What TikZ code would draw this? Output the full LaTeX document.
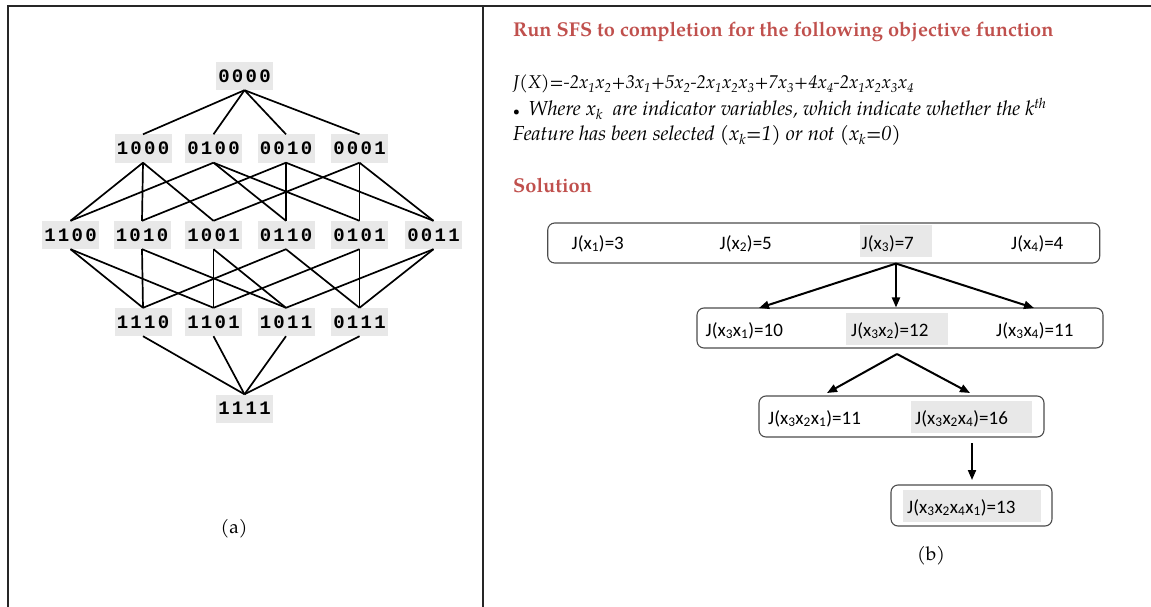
\documentclass[tikz,border=0pt]{standalone}
\usepackage{fontspec}
\setmainfont{texgyrepagella}[Extension=.otf, UprightFont=*-regular, BoldFont=*-bold, ItalicFont=*-italic, BoldItalicFont=*-bolditalic]
\newfontfamily\bitfont{Liberation Mono}[LetterSpace=12]
\newfontfamily\boxfont{Carlito}
\usetikzlibrary{arrows.meta}
\definecolor{titlered}{RGB}{192,80,77}
\definecolor{hilite}{RGB}{232,232,232}
\newcommand\sbs[1]{\textsubscript{#1}}

\begin{document}
\begin{tikzpicture}[x=1pt,y=-1pt,
  bit/.style={fill=hilite, minimum width=57pt, minimum height=28pt, inner sep=0pt,
    font=\bitfont\bfseries\fontsize{19}{19}\selectfont},
  edge/.style={line width=1.7pt},
  frame/.style={line width=1.3pt, draw=black!85},
  para/.style={anchor=base west, inner sep=0pt},
  headline/.style={para, text=titlered, font=\bfseries\fontsize{20}{24}\selectfont},
  body/.style={para, font=\itshape\fontsize{20.3}{22}\selectfont},
  formula/.style={para, font=\itshape\fontsize{18.5}{22}\selectfont},
  rbox/.style={draw=black!70, line width=1.1pt, rounded corners=7pt, inner sep=0pt},
  hl/.style={fill=hilite, inner sep=0pt, minimum height=32pt},
  val/.style={anchor=base west, inner sep=0pt, font=\boxfont\fontsize{19}{22}\selectfont},
  arr/.style={line width=2pt, -{Triangle[length=10pt,width=8pt]}},
  caption/.style={inner sep=0pt, font=\fontsize{19}{22}\selectfont}]

\useasboundingbox (0,0) rectangle (1151,607);

% panel frames
\draw[frame] (8,607) -- (8,6) -- (1151,6);
\draw[frame] (483,6) -- (483,607);

% ---------- (a) subset lattice ----------
\node[bit] (n0000) at (244.5,76) {0000};

\node[bit] (n1000) at (143,148.5) {1000};
\node[bit] (n0100) at (213.5,148.5) {0100};
\node[bit] (n0010) at (286,148.5) {0010};
\node[bit] (n0001) at (359.5,148.5) {0001};

\node[bit] (n1100) at (70.5,235) {1100};
\node[bit] (n1010) at (142,235) {1010};
\node[bit] (n1001) at (213.5,235) {1001};
\node[bit] (n0110) at (286,235) {0110};
\node[bit] (n0101) at (359.5,235) {0101};
\node[bit] (n0011) at (433.5,235) {0011};

\node[bit] (n1110) at (143,322) {1110};
\node[bit] (n1101) at (213.5,322) {1101};
\node[bit] (n1011) at (286,322) {1011};
\node[bit] (n0111) at (359.5,322) {0111};

\node[bit] (n1111) at (244.5,408.5) {1111};

\foreach \a/\b in {0000/1000,0000/0100,0000/0010,0000/0001,
  1000/1100,1000/1010,1000/1001,
  0100/1100,0100/0110,0100/0101,
  0010/1010,0010/0110,0010/0011,
  0001/1001,0001/0101,0001/0011,
  1100/1110,1100/1101,
  1010/1110,1010/1011,
  1001/1101,1001/1011,
  0110/1110,0110/0111,
  0101/1101,0101/0111,
  0011/1011,0011/0111,
  1110/1111,1101/1111,1011/1111,0111/1111}
  \draw[edge] (n\a.south) -- (n\b.north);

\node[caption] (capa) at (234,529) {(a)};

% ---------- (b) problem statement ----------
\node[headline] (title) at (513,37) {Run SFS to completion for the following objective function};
\node[formula] (obj) at (513,89) {J(X)=-2x\sbs{1}x\sbs{2}+3x\sbs{1}+5x\sbs{2}-2x\sbs{1}x\sbs{2}x\sbs{3}+7x\sbs{3}+4x\sbs{4}-2x\sbs{1}x\sbs{2}x\sbs{3}x\sbs{4}};
\node[body] (note1) at (513,116) {{\fontsize{12}{12}\selectfont\textbullet}\, Where x\sbs{k}\enspace are indicator variables, which indicate whether the k\textsuperscript{th}};
\node[body] (note2) at (513,141) {Feature has been selected (x\sbs{k}=1) or not (x\sbs{k}=0)};
\node[headline] (sol) at (513,192) {Solution};

% ---------- (b) search steps ----------
\node[rbox, minimum width=552pt, minimum height=40pt] (r1) at (823.75,243) {};
\node[hl, minimum width=72pt] (g1) at (896,241) {};
\node[val] (v11) at (571.5,249) {J(x\sbs{1})=3};
\node[val] (v12) at (719.5,249) {J(x\sbs{2})=5};
\node[val] (v13) at (861.5,249) {J(x\sbs{3})=7};
\node[val] (v14) at (1011,249) {J(x\sbs{4})=4};

\node[rbox, minimum width=406pt, minimum height=40pt] (r2) at (900,328) {};
\node[hl, minimum width=102pt] (g2) at (897,329) {};
\node[val] (v21) at (705.5,336) {J(x\sbs{3}x\sbs{1})=10};
\node[val] (v22) at (851,336) {J(x\sbs{3}x\sbs{2})=12};
\node[val] (v23) at (996,336) {J(x\sbs{3}x\sbs{4})=11};

\node[rbox, minimum width=285pt, minimum height=41pt] (r3) at (901.5,416.5) {};
\node[hl, minimum width=121pt] (g3) at (971.5,417) {};
\node[val] (v31) at (768,424) {J(x\sbs{3}x\sbs{2}x\sbs{1})=11};
\node[val] (v32) at (915,424) {J(x\sbs{3}x\sbs{2}x\sbs{4})=16};

\node[rbox, minimum width=161pt, minimum height=41pt] (r4) at (971.5,505.5) {};
\node[hl, minimum width=138pt] (g4) at (972,506) {};
\node[val] (v41) at (907,513) {J(x\sbs{3}x\sbs{2}x\sbs{4}x\sbs{1})=13};

\node[caption] (capb) at (931,556) {(b)};

% arrow end points
\coordinate (e21) at (759,308);
\coordinate (e23) at (1034,308);
\coordinate (s2) at (897,354);
\coordinate (e31) at (827,393);
\coordinate (e32) at (970,393);
\coordinate (d3) at (972,443);
\coordinate (e4) at (972,480);

\draw[arr] (g1.south |- r1.south) -- (e21);
\draw[arr] (g1.south |- r1.south) -- (g1.south |- r2.north);
\draw[arr] (g1.south |- r1.south) -- (e23);
\draw[arr] (s2) -- (e31);
\draw[arr] (s2) -- (e32);
\draw[arr] (d3) -- (e4);
\end{tikzpicture}
\end{document}
